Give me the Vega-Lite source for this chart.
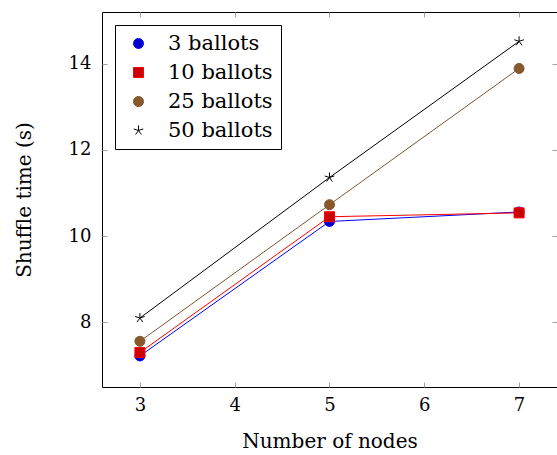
{
  "$schema": "https://vega.github.io/schema/vega-lite/v6.json",
  "width": 455,
  "height": 375,
  "autosize": {"type": "none"},
  "padding": {"left": 102, "top": 12, "right": 0, "bottom": 68},
  "config": {
    "font": "DejaVu Serif",
    "view": {"stroke": "black", "strokeWidth": 1},
    "axis": {
      "domain": false,
      "grid": false,
      "tickColor": "#a0a0a0",
      "tickSize": -5,
      "tickWidth": 1,
      "labelFont": "DejaVu Serif",
      "labelFontSize": 18,
      "labelColor": "black",
      "titleFont": "DejaVu Serif",
      "titleFontSize": 20,
      "titleFontWeight": "normal",
      "titleColor": "black"
    },
    "legend": {
      "orient": "top-left",
      "offset": 13,
      "padding": 8,
      "strokeColor": "black",
      "fillColor": "white",
      "cornerRadius": 0,
      "labelFont": "DejaVu Serif",
      "labelFontSize": 21,
      "labelColor": "black",
      "rowPadding": 7,
      "symbolSize": 100,
      "symbolStrokeWidth": 1,
      "symbolOffset": 5,
      "labelOffset": 19,
      "title": null
    }
  },
  "data": {
    "values": [
      {"series": "3 ballots", "nodes": 3, "time": 7.22},
      {"series": "3 ballots", "nodes": 5, "time": 10.34},
      {"series": "3 ballots", "nodes": 7, "time": 10.56},
      {"series": "10 ballots", "nodes": 3, "time": 7.30},
      {"series": "10 ballots", "nodes": 5, "time": 10.45},
      {"series": "10 ballots", "nodes": 7, "time": 10.54},
      {"series": "25 ballots", "nodes": 3, "time": 7.56},
      {"series": "25 ballots", "nodes": 5, "time": 10.73},
      {"series": "25 ballots", "nodes": 7, "time": 13.89},
      {"series": "50 ballots", "nodes": 3, "time": 8.10},
      {"series": "50 ballots", "nodes": 5, "time": 11.36},
      {"series": "50 ballots", "nodes": 7, "time": 14.52}
    ]
  },
  "resolve": {"axis": {"x": "independent", "y": "independent"}},
  "layer": [
    {
      "mark": {"type": "line", "strokeWidth": 1},
      "encoding": {
        "x": {"field": "nodes", "type": "quantitative", "scale": {"domain": [2.6, 7.4], "nice": false, "zero": false},
              "axis": {"values": [3, 4, 5, 6, 7], "labelPadding": 14, "title": "Number of nodes", "titlePadding": 17}},
        "y": {"field": "time", "type": "quantitative", "scale": {"domain": [6.5, 15.2], "nice": false, "zero": false},
              "axis": {"values": [8, 10, 12, 14], "labelPadding": 16, "title": "Shuffle time (s)", "titlePadding": 34}},
        "stroke": {"field": "series", "type": "nominal",
                   "scale": {"domain": ["3 ballots", "10 ballots", "25 ballots", "50 ballots"], "range": ["#0000ff", "#ff0000", "#7f5430", "#000000"]}},
        "order": {"field": "nodes"}
      }
    },
    {
      "mark": {"type": "point", "filled": true, "opacity": 1, "size": 100, "strokeWidth": 1},
      "encoding": {
        "x": {"field": "nodes", "type": "quantitative", "axis": {"orient": "top", "values": [3, 4, 5, 6, 7], "labels": false, "title": null}},
        "y": {"field": "time", "type": "quantitative", "axis": {"orient": "right", "values": [8, 10, 12, 14], "labels": false, "title": null}},
        "stroke": {"field": "series", "type": "nominal",
                   "scale": {"domain": ["3 ballots", "10 ballots", "25 ballots", "50 ballots"], "range": ["#0000ff", "#ff0000", "#5c3d1f", "#000000"]}},
        "fill": {"field": "series", "type": "nominal",
                 "scale": {"domain": ["3 ballots", "10 ballots", "25 ballots", "50 ballots"], "range": ["#0000cc", "#cc0000", "#8b5a2b", "#000000"]}},
        "shape": {"field": "series", "type": "nominal",
                  "scale": {"domain": ["3 ballots", "10 ballots", "25 ballots", "50 ballots"],
                            "range": ["circle", "square", "M1,0A1,1 0 1,1 -1,0A1,1 0 1,1 1,0ZM-0.7,-0.7L0.7,0.7M-0.7,0.7L0.7,-0.7", "M0,-1L0,0M0,0L0.95,-0.31M0,0L0.59,0.81M0,0L-0.59,0.81M0,0L-0.95,-0.31"]}}
      }
    }
  ]
}
